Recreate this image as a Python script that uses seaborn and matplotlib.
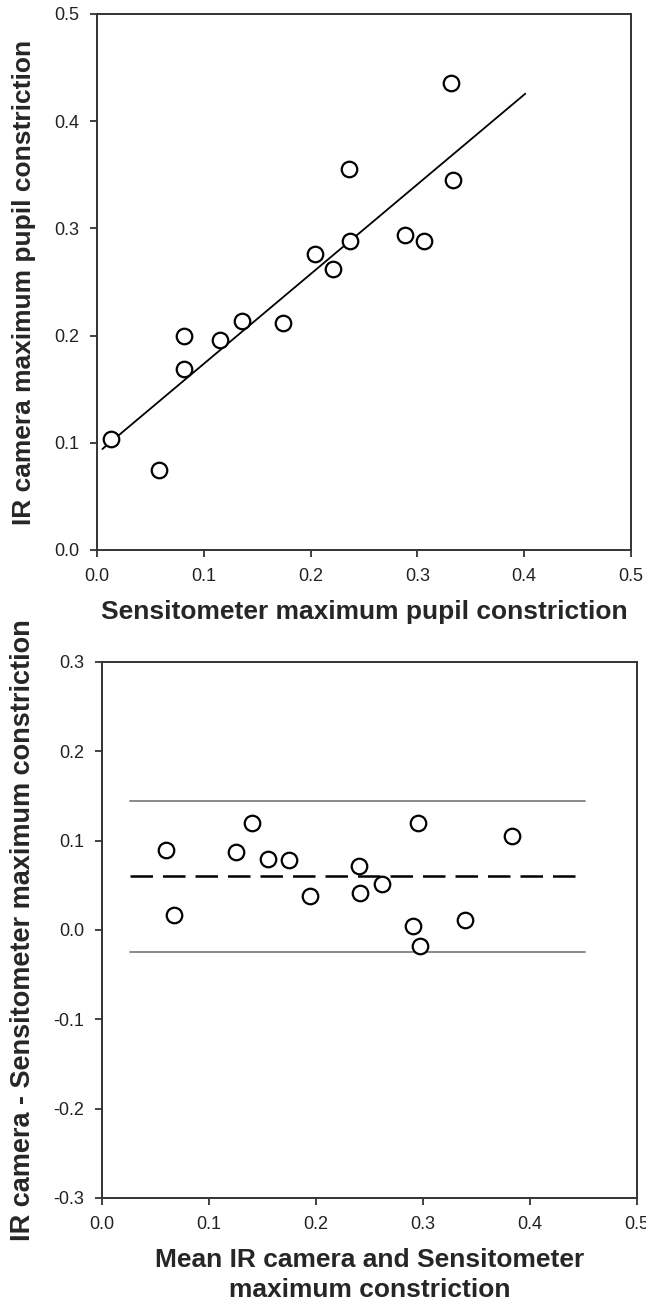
import numpy as np
import matplotlib
matplotlib.use("Agg")
import matplotlib.pyplot as plt
import seaborn as sns

# Top panel: IR camera vs Sensitometer
sens_x = [0.013, 0.058, 0.081, 0.081, 0.115, 0.136, 0.174, 0.204, 0.221,
          0.236, 0.237, 0.288, 0.306, 0.331, 0.333]
ir_y = [0.104, 0.075, 0.200, 0.169, 0.196, 0.214, 0.212, 0.276, 0.262,
        0.355, 0.288, 0.294, 0.288, 0.436, 0.345]
fit_slope = 0.837
fit_intercept = 0.090
fit_range = [0.005, 0.401]

# Bottom panel: Bland-Altman
mean_x = [0.060, 0.067, 0.125, 0.140, 0.155, 0.175, 0.194, 0.240, 0.241,
          0.262, 0.291, 0.295, 0.297, 0.339, 0.383]
diff_y = [0.090, 0.017, 0.087, 0.120, 0.080, 0.078, 0.038, 0.072, 0.041,
          0.051, 0.005, 0.120, -0.018, 0.011, 0.105]
bias = 0.060
upper_loa = 0.1445
lower_loa = -0.0246
loa_range = [0.026, 0.451]

ticks_x = [0.0, 0.1, 0.2, 0.3, 0.4, 0.5]
ticks_y_top = [0.0, 0.1, 0.2, 0.3, 0.4, 0.5]
ticks_y_bot = [-0.3, -0.2, -0.1, 0.0, 0.1, 0.2, 0.3]

sns.set_style("ticks")
plt.rcParams['font.family'] = ['Liberation Sans', 'DejaVu Sans']

fig = plt.figure(figsize=(6.46, 13.04), dpi=100)
ax1 = fig.add_axes([97 / 646, 1 - 550 / 1304, 534 / 646, 536 / 1304])
ax2 = fig.add_axes([102 / 646, 1 - 1198 / 1304, 535 / 646, 536 / 1304])

marker_kw = dict(s=125, facecolor="white", edgecolor="black", linewidth=1.6, zorder=3)

# top
fx = np.array(fit_range)
ax1.plot(fx, fit_intercept + fit_slope * fx, color="black", lw=1.3, zorder=2)
sns.scatterplot(x=sens_x, y=ir_y, ax=ax1, **marker_kw)
ax1.set_xlim(0, 0.5)
ax1.set_ylim(0, 0.5)
ax1.set_xticks(ticks_x)
ax1.set_yticks(ticks_y_top)
ax1.set_xticklabels([f"{t:.1f}" for t in ticks_x])
ax1.set_yticklabels([f"{t:.1f}" for t in ticks_y_top])
ax1.set_xlabel("Sensitometer maximum pupil constriction", fontsize=19,
               fontweight="bold", labelpad=11)
ax1.set_ylabel("IR camera maximum pupil constriction", fontsize=19,
               fontweight="bold")
ax1.yaxis.set_label_coords((36 - 97) / 534, 0.5)

# bottom
ax2.plot(loa_range, [upper_loa, upper_loa], color="#808080", lw=1.3, zorder=1)
ax2.plot(loa_range, [lower_loa, lower_loa], color="#808080", lw=1.3, zorder=1)
ax2.plot(loa_range, [bias, bias], color="black", lw=1.8, dashes=(9, 4), zorder=2)
sns.scatterplot(x=mean_x, y=diff_y, ax=ax2, **marker_kw)
ax2.set_xlim(0, 0.5)
ax2.set_ylim(-0.3, 0.3)
ax2.set_xticks(ticks_x)
ax2.set_yticks(ticks_y_bot)
ax2.set_xticklabels([f"{t:.1f}" for t in ticks_x])
ax2.set_yticklabels([f"{t:.1f}" for t in ticks_y_bot])
ax2.set_xlabel("Mean IR camera and Sensitometer\nmaximum constriction", fontsize=19,
               fontweight="bold", labelpad=11, linespacing=1.3)
ax2.set_ylabel("IR camera - Sensitometer maximum constriction", fontsize=19.5,
               fontweight="bold")
ax2.yaxis.set_label_coords((36 - 102) / 535, 0.5)

for ax in (ax1, ax2):
    for sp in ax.spines.values():
        sp.set_visible(True)
        sp.set_linewidth(1.4)
        sp.set_color("#333333")
    ax.tick_params(direction="out", length=5, width=1.3, pad=8, labelsize=13,
                   colors="#333333", labelcolor="#222222", top=False, right=False)

fig.savefig("out.png", dpi=100)
